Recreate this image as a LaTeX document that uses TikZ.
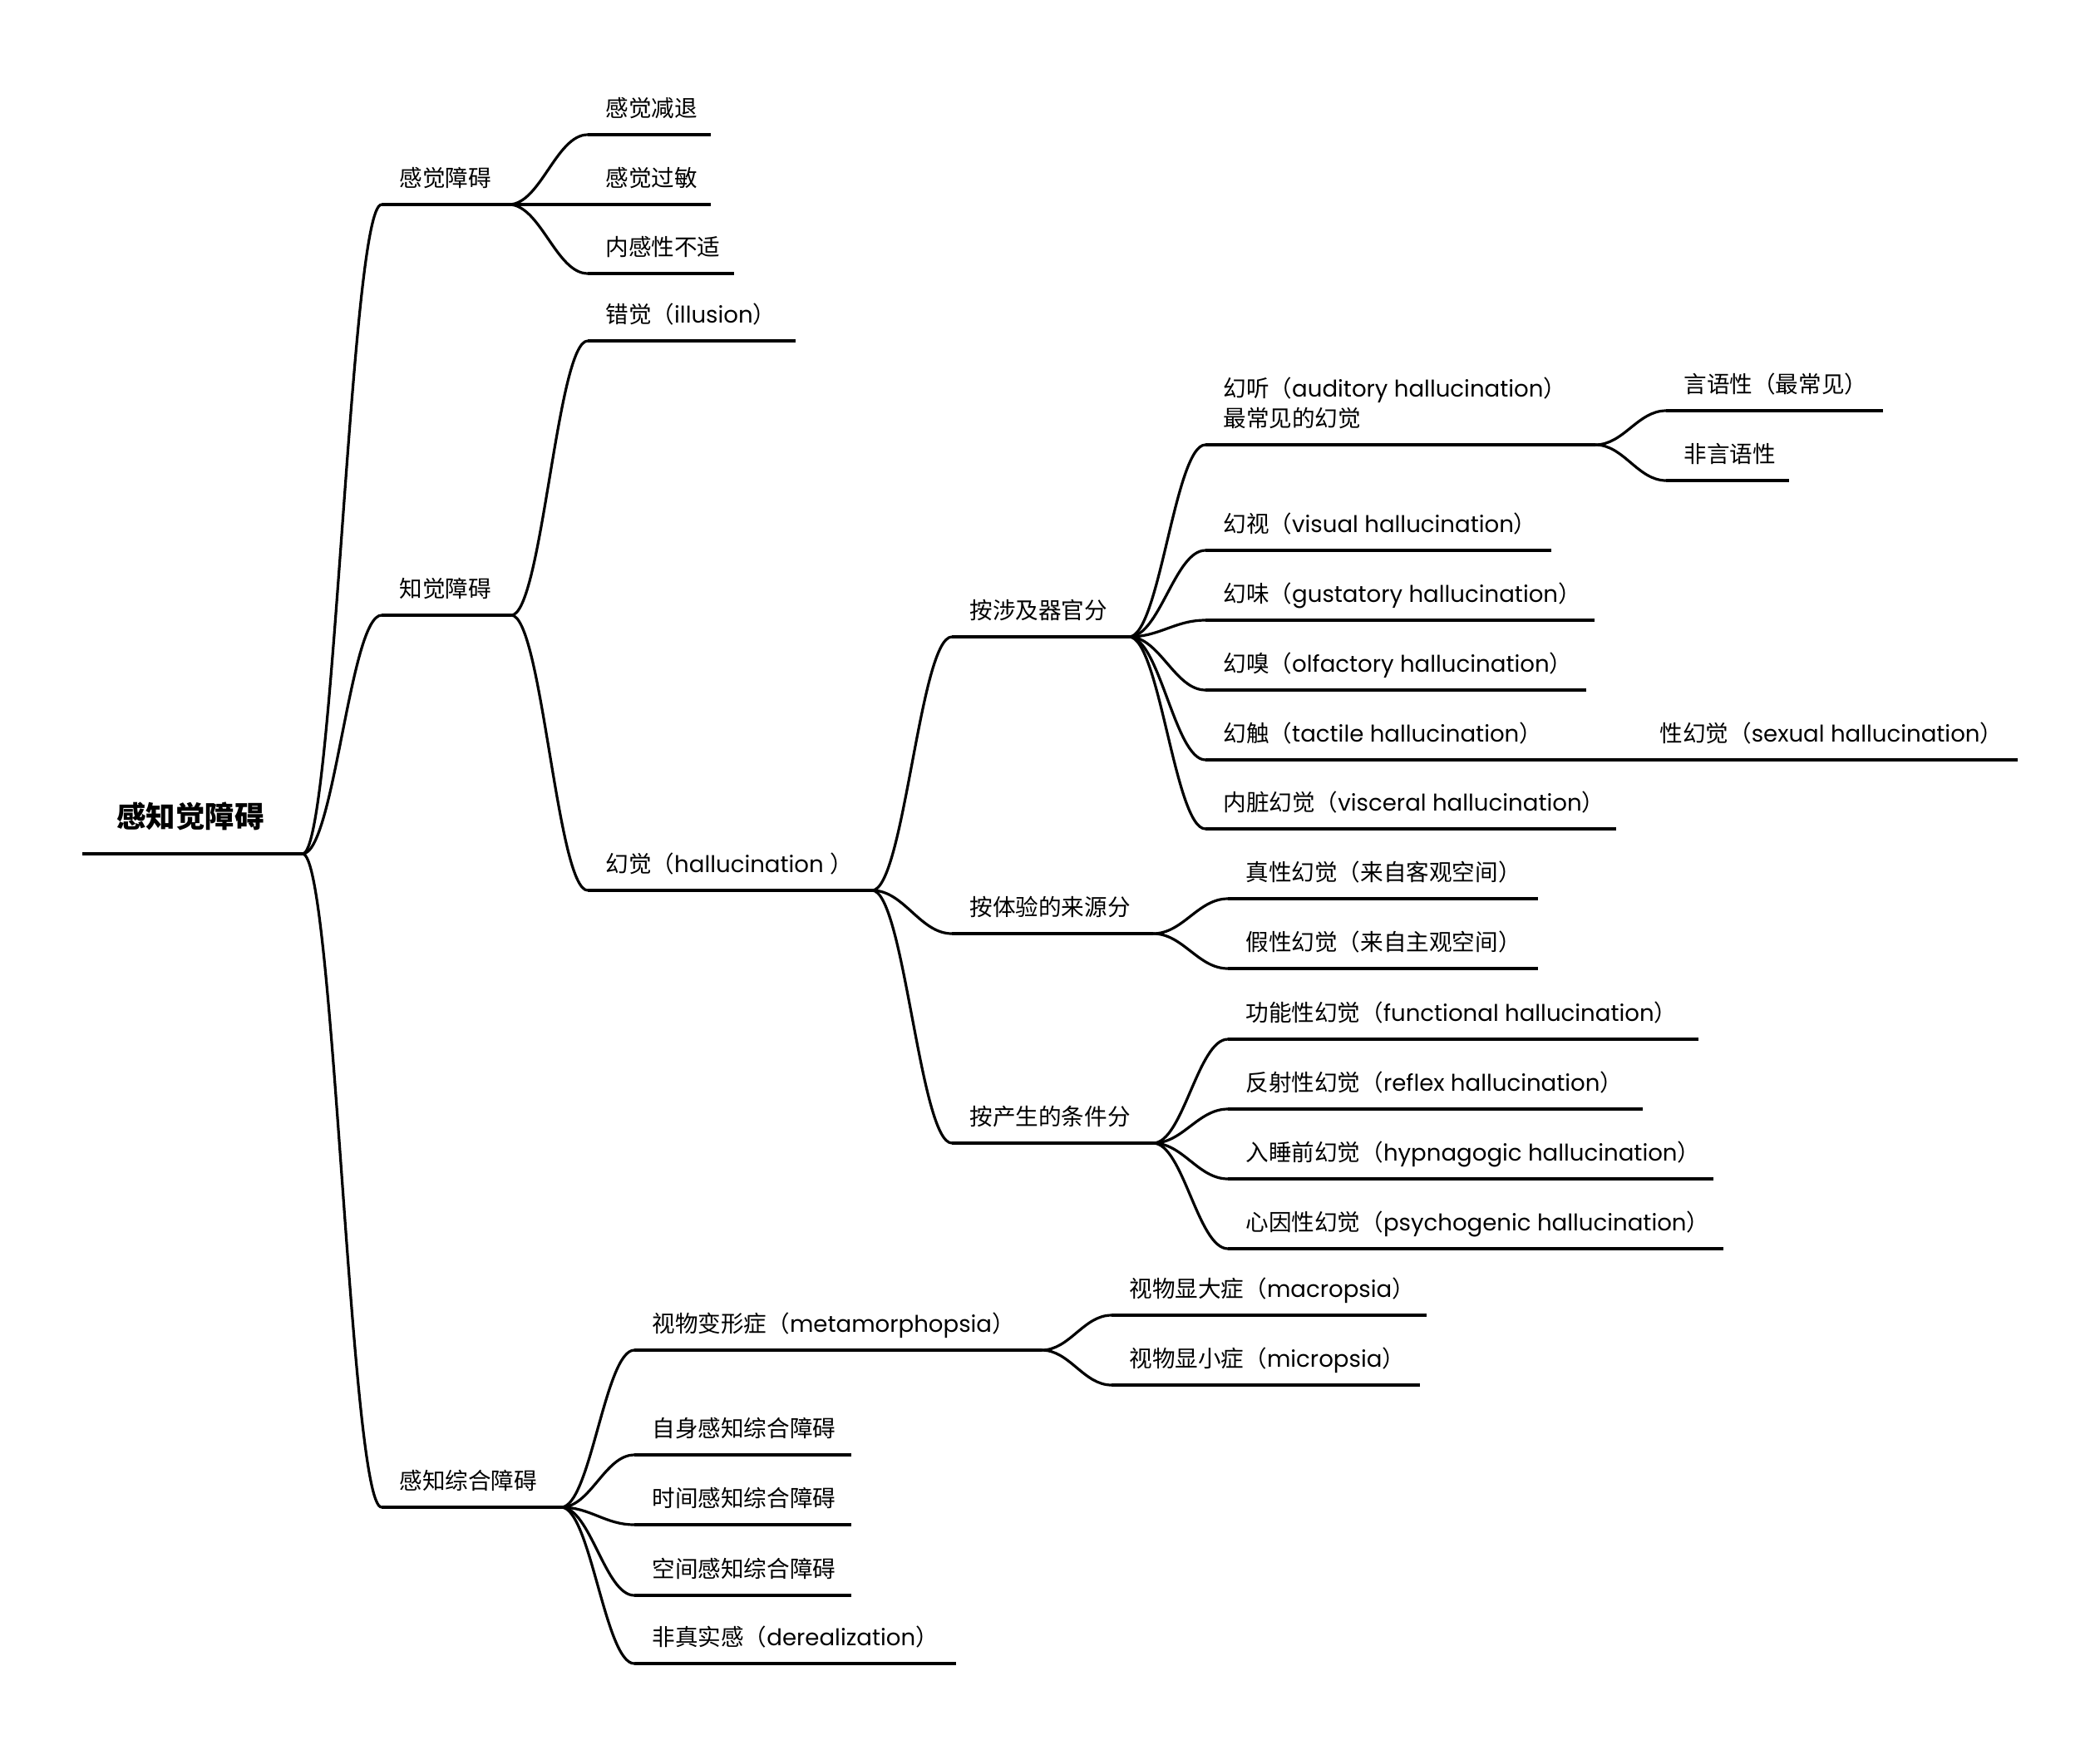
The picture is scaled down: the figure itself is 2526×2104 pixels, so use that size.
\documentclass[tikz,border=0pt]{standalone}
\usepackage{fontspec}
\setmainfont{Noto Sans CJK SC}
\newfontfamily\enfont{Poppins}
\newcommand\en[1]{{\enfont #1}}
\usetikzlibrary{calc}
\tikzset{
  uline/.style={line width=1.6pt},
  conn/.style={line width=1.6pt},
  lbl/.style={anchor=base west, inner sep=0pt, font=\fontsize{13.8}{18}\selectfont},
  rootlbl/.style={anchor=base west, inner sep=0pt, font=\fontsize{17.7}{20}\selectfont\bfseries},
}
% a topic: underline from x-start to x-end at height y, with its label above
\newcommand\topic[5]{%
  \coordinate (#1S) at (#2,#4);
  \coordinate (#1E) at (#3,#4);
  \draw[uline] (#1S) -- (#1E);
  \node[lbl] (#1) at ($(#1S)+(21,-21.5)$) {#5};
}
% curved connector from the end of a parent's underline to the start of a child's
\newcommand\link[2]{%
  \draw[conn] (#1E) .. controls ($(#1E)!0.4!(#1E -| #2S)$) and ($(#2S)!0.4!(#2S -| #1E)$) .. (#2S);
}
\begin{document}
\begin{tikzpicture}[x=0.5pt, y=-0.5pt]
\useasboundingbox (0,0) rectangle (2526,2104);

% central topic
\coordinate (rootS) at (99,1027);
\coordinate (rootE) at (364,1027);
\draw[uline] (rootS) -- (rootE);
\node[rootlbl] (root) at ($(rootS)+(41,-32)$) {感知觉障碍};

% first level
\topic{a}{459}{612}{246}{感觉障碍}
\topic{b}{459}{615}{740}{知觉障碍}
\topic{c}{459}{675}{1813}{感知综合障碍}
\link{root}{a}
\link{root}{b}
\link{root}{c}

% 感觉障碍
\topic{aa}{707}{855}{162}{感觉减退}
\topic{ab}{707}{855}{246}{感觉过敏}
\topic{ac}{707}{883}{329}{内感性不适}
\link{a}{aa}
\link{a}{ab}
\link{a}{ac}

% 知觉障碍
\topic{ba}{707}{957}{410}{错觉（\en{illusion}）}
\topic{bb}{707}{1049}{1071}{幻觉（\en{hallucination }）}
\link{b}{ba}
\link{b}{bb}

% 幻觉 subdivisions
\topic{bba}{1145}{1358}{766}{按涉及器官分}
\topic{bbb}{1145}{1387}{1123}{按体验的来源分}
\topic{bbc}{1145}{1387}{1375}{按产生的条件分}
\link{bb}{bba}
\link{bb}{bbb}
\link{bb}{bbc}

% by sense organ
\coordinate (bbaaS) at (1450,535);
\coordinate (bbaaE) at (1919,535);
\draw[uline] (bbaaS) -- (bbaaE);
\node[lbl] (bbaa) at ($(bbaaS)+(21,-21.5)$)
  {\begin{tabular}[b]{@{}l@{}}幻听（\en{auditory hallucination}）\\最常见的幻觉\end{tabular}};
\topic{bbab}{1450}{1866}{662}{幻视（\en{visual hallucination}）}
\topic{bbac}{1450}{1918}{746}{幻味（\en{gustatory hallucination}）}
\topic{bbad}{1450}{1908}{830}{幻嗅（\en{olfactory hallucination}）}
\topic{bbae}{1450}{1905}{914}{幻触（\en{tactile hallucination}）}
\topic{bbaf}{1450}{1944}{997}{内脏幻觉（\en{visceral hallucination}）}
\link{bba}{bbaa}
\link{bba}{bbab}
\link{bba}{bbac}
\link{bba}{bbad}
\link{bba}{bbae}
\link{bba}{bbaf}

\topic{bbaaa}{2004}{2265}{494}{言语性（最常见）}
\topic{bbaab}{2004}{2152}{578}{非言语性}
\link{bbaa}{bbaaa}
\link{bbaa}{bbaab}

\topic{bbaea}{1975}{2427}{914}{性幻觉（\en{sexual hallucination}）}
\link{bbae}{bbaea}

% by source of experience
\topic{bbba}{1477}{1850}{1081}{真性幻觉（来自客观空间）}
\topic{bbbb}{1477}{1850}{1165}{假性幻觉（来自主观空间）}
\link{bbb}{bbba}
\link{bbb}{bbbb}

% by conditions of onset
\topic{bbca}{1477}{2043}{1250}{功能性幻觉（\en{functional hallucination}）}
\topic{bbcb}{1477}{1976}{1334}{反射性幻觉（\en{reflex hallucination}）}
\topic{bbcc}{1477}{2061}{1418}{入睡前幻觉（\en{hypnagogic hallucination}）}
\topic{bbcd}{1477}{2073}{1502}{心因性幻觉（\en{psychogenic hallucination}）}
\link{bbc}{bbca}
\link{bbc}{bbcb}
\link{bbc}{bbcc}
\link{bbc}{bbcd}

% 感知综合障碍
\topic{ca}{763}{1253}{1624}{视物变形症（\en{metamorphopsia}）}
\topic{cb}{763}{1024}{1750}{自身感知综合障碍}
\topic{cc}{763}{1024}{1834}{时间感知综合障碍}
\topic{cd}{763}{1024}{1919}{空间感知综合障碍}
\topic{ce}{763}{1150}{2001}{非真实感（\en{derealization}）}
\link{c}{ca}
\link{c}{cb}
\link{c}{cc}
\link{c}{cd}
\link{c}{ce}

\topic{caa}{1337}{1716}{1582}{视物显大症（\en{macropsia}）}
\topic{cab}{1337}{1708}{1666}{视物显小症（\en{micropsia}）}
\link{ca}{caa}
\link{ca}{cab}
\end{tikzpicture}
\end{document}
